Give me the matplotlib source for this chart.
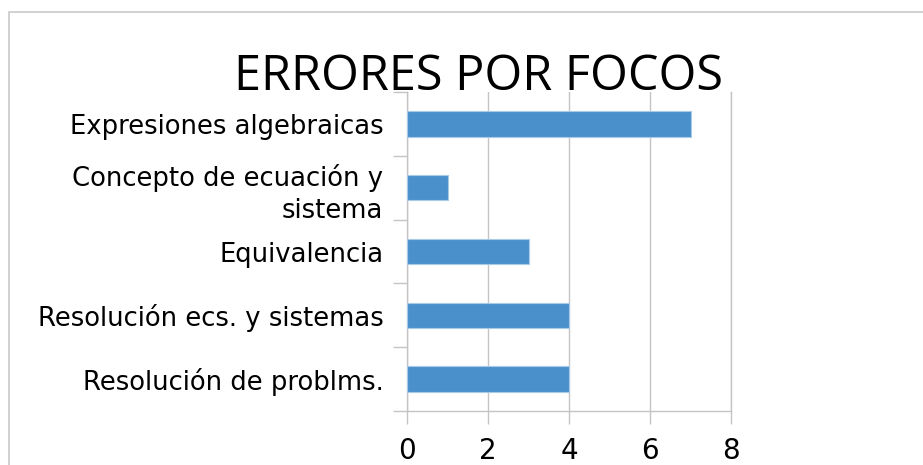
import matplotlib
matplotlib.use("Agg")
import matplotlib.pyplot as plt
import matplotlib.patches as mpatches
import numpy as np

categorias = [
    "Expresiones algebraicas",
    "Concepto de ecuación y\nsistema",
    "Equivalencia",
    "Resolución ecs. y sistemas",
    "Resolución de problms.",
]
errores = [7, 1, 3, 4, 4]
x_ticks = [0, 2, 4, 6, 8]

W, H = 923, 465
fig = plt.figure(figsize=(W / 100, H / 100), dpi=100)

# thin frame around the chart area
fig.patches.append(mpatches.Rectangle(
    (9 / W, -0.1), 1.2, 1 - 12 / H + 0.1, transform=fig.transFigure,
    fill=False, edgecolor="#c9c9c9", linewidth=1.2))

ax = fig.add_axes([407 / W, 1 - 411 / H, 324 / W, 319 / H])

pos = np.arange(len(categorias))
ax.barh(pos, errores, height=0.4, color="#4a90cb", edgecolor="#a8c9e8",
        linewidth=0.8, zorder=3)

ax.set_xlim(0, 8)
ax.set_ylim(len(categorias) - 0.5, -0.5)
ax.set_xticks(x_ticks)
ax.set_xticklabels([str(v) for v in x_ticks])
ax.set_yticks(pos)
ax.set_yticklabels(categorias, ha="right", linespacing=1.3)
ax.set_yticks(np.arange(len(categorias) + 1) - 0.5, minor=True)

ax.grid(axis="x", color="#c4c4c4", linewidth=1.0, zorder=0)
ax.spines["top"].set_visible(False)
for side in ["left", "bottom", "right"]:
    ax.spines[side].set_color("#c4c4c4")
    ax.spines[side].set_linewidth(1.0)

ax.tick_params(axis="y", which="major", length=0, pad=17, labelsize=18.6)
ax.tick_params(axis="y", which="minor", length=10, color="#c4c4c4", width=1.0)
ax.tick_params(axis="x", length=9, color="#c4c4c4", width=1.0, pad=10,
               labelsize=20)

fig.text(479 / W, 1 - 90 / H, "ERRORES POR FOCOS", ha="center",
         va="baseline", fontsize=35, family="Open Sans")

fig.savefig("out.png", dpi=100)
